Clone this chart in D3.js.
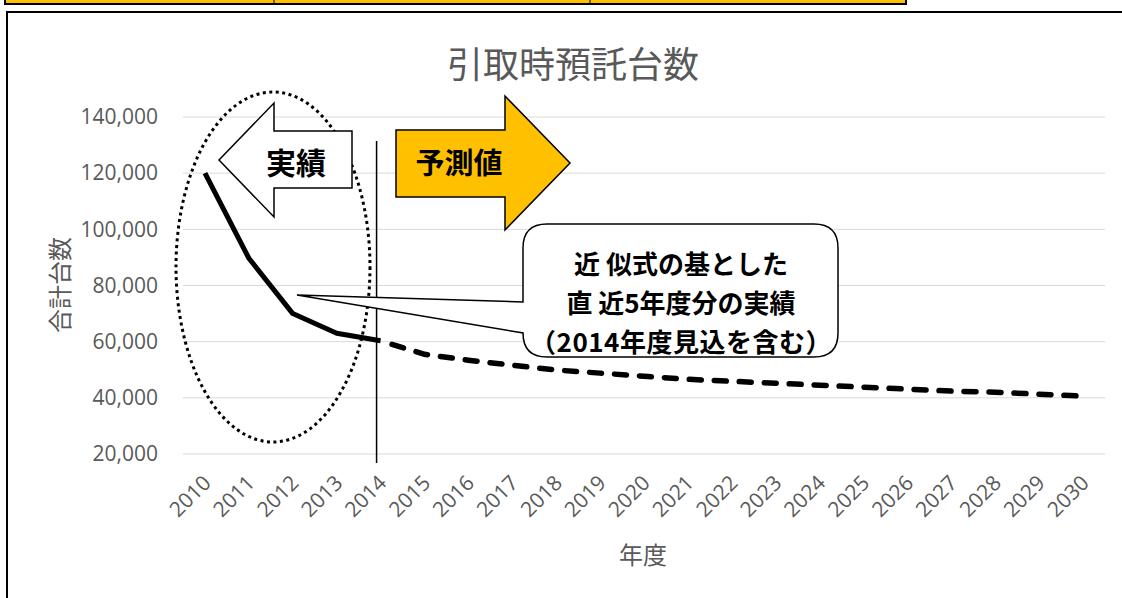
<!DOCTYPE html>
<html>
<head>
<meta charset="utf-8">
<script src="https://cdn.jsdelivr.net/npm/d3@7"></script>
<style>
  body { margin: 0; background: #fff; }
  svg { display: block; }
</style>
</head>
<body>
<div id="chart"></div>
<script>
// chart data
var years = ["2010", "2011", "2012", "2013", "2014", "2015", "2016", "2017", "2018", "2019", "2020",
             "2021", "2022", "2023", "2024", "2025", "2026", "2027", "2028", "2029", "2030"];
var actualYears = ["2010", "2011", "2012", "2013", "2014"];
var actualValues = [120000, 89700, 70000, 63000, 60300];
var forecastYears = ["2014", "2015", "2016", "2017", "2018", "2019", "2020", "2021", "2022",
                     "2023", "2024", "2025", "2026", "2027", "2028", "2029", "2030"];
var forecastValues = [60300, 55500, 53400, 51600, 49900, 48800, 47700, 46600, 45900,
                      45200, 44500, 43800, 43100, 42400, 42000, 41300, 40600];
var yTicks = [20000, 40000, 60000, 80000, 100000, 120000, 140000];

var svgWidth = 1122;
var svgHeight = 598;
var jp = "'Noto Sans CJK JP', sans-serif";
var num = "'Open Sans', sans-serif";
var gray = "#595959";

var svg = d3.select("#chart")
  .append("svg")
  .attr("width", svgWidth)
  .attr("height", svgHeight);

// yellow table strip at the very top
svg.append("rect")
  .attr("x", 5).attr("y", -6).attr("width", 901).attr("height", 10)
  .attr("fill", "#ffc000").attr("stroke", "#000").attr("stroke-width", 2);
[274, 590].forEach(function(x) {
  svg.append("line").attr("x1", x).attr("x2", x).attr("y1", 0).attr("y2", 4)
    .attr("stroke", "#000").attr("stroke-width", 1);
});

// chart frame
svg.append("rect")
  .attr("x", 7).attr("y", 12).attr("width", 1130).attr("height", 600)
  .attr("fill", "#fff").attr("stroke", "#000").attr("stroke-width", 2);

// scales
var x = d3.scaleBand().domain(years).range([183, 1105]);
var y = d3.scaleLinear().domain([20000, 140000]).range([454, 117]);
var cx = function(d) { return x(d) + x.bandwidth() / 2; };

// gridlines
svg.append("g")
  .selectAll("line")
  .data(yTicks)
  .enter()
  .append("line")
  .attr("x1", 183).attr("x2", 1105)
  .attr("y1", d => y(d)).attr("y2", d => y(d))
  .attr("stroke", "#d9d9d9").attr("stroke-width", 1);

// y axis
var leftAxis = d3.axisLeft(y).tickValues(yTicks).tickFormat(d3.format(",")).tickSize(0).tickPadding(25);
var yAxisG = svg.append("g").attr("transform", "translate(183,0)").call(leftAxis);
yAxisG.select(".domain").remove();
yAxisG.selectAll("text")
  .attr("fill", gray).style("font-family", num).style("font-size", "21px");

// x axis
var bottomAxis = d3.axisBottom(x).tickSize(0);
var xAxisG = svg.append("g").attr("transform", "translate(0,454)").call(bottomAxis);
xAxisG.select(".domain").remove();
xAxisG.selectAll("text")
  .attr("fill", gray).style("font-family", num).style("font-size", "21px")
  .attr("text-anchor", "end")
  .attr("x", 0).attr("y", 0)
  .attr("dy", "0.35em")
  .attr("transform", "translate(2,25) rotate(-45)");

// titles
svg.append("text")
  .attr("x", 573).attr("y", 62)
  .attr("text-anchor", "middle").attr("dominant-baseline", "central")
  .attr("fill", gray).style("font-family", jp).style("font-size", "36px")
  .text("引取時預託台数");

svg.append("text")
  .attr("transform", "translate(58,285) rotate(-90)")
  .attr("text-anchor", "middle").attr("dominant-baseline", "central")
  .attr("fill", gray).style("font-family", jp).style("font-size", "24px")
  .text("合計台数");

svg.append("text")
  .attr("x", 643).attr("y", 553)
  .attr("text-anchor", "middle").attr("dominant-baseline", "central")
  .attr("fill", gray).style("font-family", jp).style("font-size", "24px")
  .text("年度");

// lines
var line = d3.line().x(d => cx(d[0])).y(d => y(d[1]));

svg.append("path")
  .datum(forecastYears.map((d, i) => [d, forecastValues[i]]))
  .attr("d", line)
  .attr("fill", "none").attr("stroke", "#000").attr("stroke-width", 5.5)
  .attr("stroke-dasharray", "12,13").attr("stroke-dashoffset", -12)
  .attr("stroke-linecap", "round");

svg.append("path")
  .datum(actualYears.map((d, i) => [d, actualValues[i]]))
  .attr("d", line)
  .attr("fill", "none").attr("stroke", "#000").attr("stroke-width", 5)
  .attr("stroke-linejoin", "round");

// dotted ellipse around actual values
svg.append("ellipse")
  .attr("cx", 273).attr("cy", 267).attr("rx", 97).attr("ry", 175)
  .attr("fill", "none").attr("stroke", "#000").attr("stroke-width", 3)
  .attr("stroke-dasharray", "3,3.5");

// divider line at 2014
svg.append("line")
  .attr("x1", cx("2014") - 4).attr("x2", cx("2014") - 4)
  .attr("y1", 141).attr("y2", 463)
  .attr("stroke", "#000").attr("stroke-width", 1.5);

// left arrow 実績
svg.append("path")
  .attr("d", "M219,160 L274,103 L274,131 L352,131 L352,188 L274,188 L274,217 Z")
  .attr("fill", "#fff").attr("stroke", "#000").attr("stroke-width", 1.5);
svg.append("text")
  .attr("x", 296).attr("y", 161)
  .attr("text-anchor", "middle").attr("dominant-baseline", "central")
  .style("font-family", jp).style("font-size", "30px").style("font-weight", "bold")
  .text("実績");

// right arrow 予測値
svg.append("path")
  .attr("d", "M396,130 L505,130 L505,96 L570,163 L505,230 L505,197 L396,197 Z")
  .attr("fill", "#ffc000").attr("stroke", "#000").attr("stroke-width", 1.5);
svg.append("text")
  .attr("x", 459).attr("y", 161)
  .attr("text-anchor", "middle").attr("dominant-baseline", "central")
  .style("font-family", jp).style("font-size", "29px").style("font-weight", "bold")
  .text("予測値");

// callout
var r = 24;
svg.append("path")
  .attr("d", "M" + (523 + r) + ",224 L" + (838 - r) + ",224 Q838,224 838," + (224 + r) +
    " L838," + (357 - r) + " Q838,357 " + (838 - r) + ",357 L" + (523 + r) + ",357 Q523,357 523," + (357 - r) +
    " L523,333 L297,295 L523,302 L523," + (224 + r) + " Q523,224 " + (523 + r) + ",224 Z")
  .attr("fill", "#fff").attr("stroke", "#000").attr("stroke-width", 1.5);

var calloutLines = ["近 似式の基とした", "直 近5年度分の実績", "（2014年度見込を含む）"];
svg.append("g")
  .selectAll("text")
  .data(calloutLines)
  .enter()
  .append("text")
  .attr("x", 681)
  .attr("y", (d, i) => 262 + i * 39)
  .attr("text-anchor", "middle").attr("dominant-baseline", "central")
  .style("font-family", jp).style("font-size", "26px").style("font-weight", "bold")
  .attr("letter-spacing", (d, i) => i === 2 ? "0.5px" : "0px")
  .text(d => d);
</script>
</body>
</html>
